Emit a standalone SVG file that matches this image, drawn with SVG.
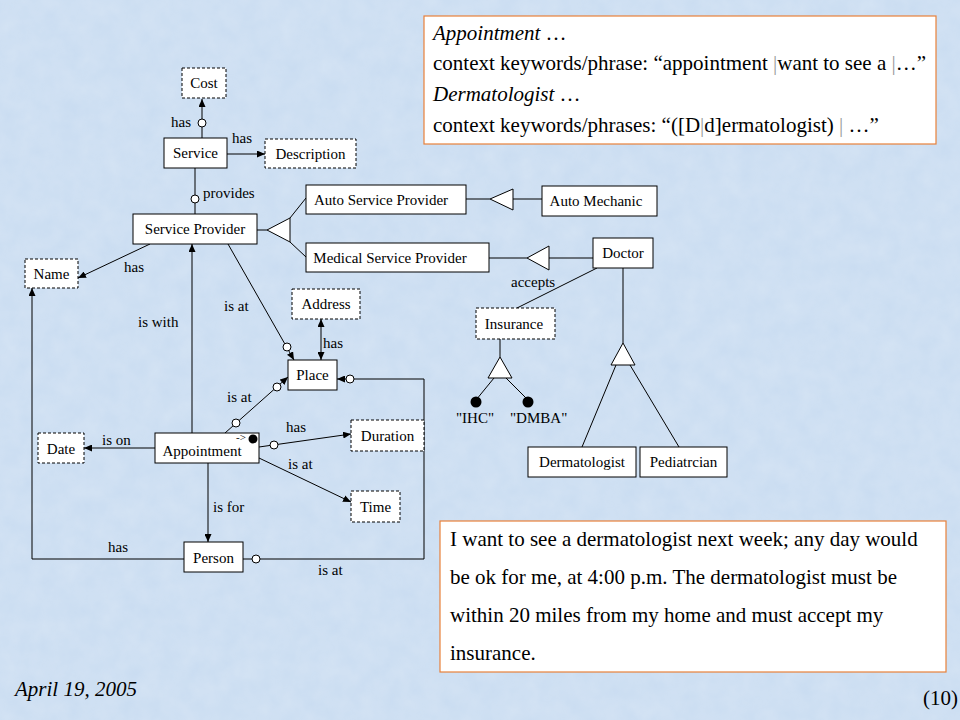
<svg xmlns="http://www.w3.org/2000/svg" width="960" height="720" viewBox="0 0 960 720">
<defs>
<style>
.node rect{fill:#fff;stroke:#000;stroke-width:1}
.dashed rect{stroke-dasharray:3,2}
.node text{font-family:'Liberation Serif','DejaVu Serif',serif;font-size:15px;fill:#000;text-anchor:middle}
.conn line,.conn polyline,.conn path{stroke:#000;stroke-width:1;fill:none}
.arr{marker-end:url(#ah)}
.oc{fill:#fff;stroke:#000;stroke-width:1}
.gen{fill:#fff;stroke:#000;stroke-width:1}
.lbl{font-family:'Liberation Serif','DejaVu Serif',serif;font-size:15px;fill:#000}
.box{fill:#fff;stroke:#e8803a;stroke-width:1.2}
.bt{font-family:'Liberation Serif','DejaVu Serif',serif;font-size:21px;fill:#000}
.pipe{fill:#999}
</style>
<marker id="ah" viewBox="0 0 8 7" refX="8" refY="3.5" markerWidth="8" markerHeight="7" markerUnits="userSpaceOnUse" orient="auto-start-reverse">
<path d="M0,0 L8,3.5 L0,7 z" fill="#000"/>
</marker>
<filter id="tex" x="0" y="0" width="100%" height="100%">
<feTurbulence type="fractalNoise" baseFrequency="0.05" numOctaves="3" seed="3"/>
<feColorMatrix type="matrix" values="0 0 0 0 1  0 0 0 0 1  0 0 0 0 1  0 0 0 0.35 0"/>
</filter>
</defs>
<rect x="0" y="0" width="960" height="720" fill="#c9dcf1"/>
<rect x="0" y="0" width="960" height="720" filter="url(#tex)" opacity="0.6"/>

<g id="connectors" class="conn">
<line class="arr" x1="202" y1="138" x2="202" y2="99"/>
<circle class="oc" cx="202" cy="123" r="4"/>
<line class="arr" x1="227" y1="154" x2="265" y2="154"/>
<line x1="195" y1="168" x2="195" y2="214"/>
<circle class="oc" cx="195" cy="199" r="4"/>
<line class="arr" x1="150" y1="244" x2="78" y2="278"/>
<line class="arr" x1="192" y1="433" x2="192" y2="244"/>
<line class="arr" x1="228" y1="244" x2="294" y2="360"/>
<circle class="oc" cx="287" cy="347" r="4"/>
<line class="arr" x1="225" y1="433" x2="288" y2="377"/>
<circle class="oc" cx="236" cy="423" r="4"/>
<circle class="oc" cx="277" cy="387" r="4"/>
<line x1="321" y1="319" x2="321" y2="360" marker-start="url(#ah)" marker-end="url(#ah)"/>
<polyline class="arr" points="243,559 424,559 424,379 337,379"/>
<circle class="oc" cx="256" cy="559" r="4"/>
<circle class="oc" cx="350" cy="379" r="4"/>
<line class="arr" x1="155" y1="448" x2="84" y2="448"/>
<line class="arr" x1="259" y1="447" x2="351" y2="434"/>
<circle class="oc" cx="274" cy="445" r="4"/>
<line class="arr" x1="259" y1="458" x2="351" y2="502"/>
<line class="arr" x1="208" y1="463" x2="208" y2="542"/>
<polyline class="arr" points="184,559 32,559 32,288"/>
<line x1="257" y1="230" x2="267" y2="230"/>
<polygon class="gen" points="267,230 290,218 290,242"/>
<line x1="290" y1="218" x2="306" y2="198"/>
<line x1="290" y1="242" x2="306" y2="257"/>
<line x1="466" y1="199" x2="490" y2="199"/>
<polygon class="gen" points="490,199 513,189 513,210"/>
<line x1="513" y1="199" x2="542" y2="199"/>
<line x1="489" y1="258" x2="527" y2="258"/>
<polygon class="gen" points="527,258 549,246 549,270"/>
<line x1="549" y1="258" x2="593" y2="258"/>
<line x1="597" y1="268" x2="517" y2="308"/>
<line x1="623" y1="268" x2="623" y2="343"/>
<polygon class="gen" points="623,343 611,365 635,365"/>
<line x1="616" y1="365" x2="582" y2="447"/>
<line x1="630" y1="365" x2="679" y2="447"/>
<line x1="500" y1="339" x2="500" y2="357"/>
<polygon class="gen" points="500,357 488,378 512,378"/>
<line x1="494" y1="378" x2="476" y2="400"/>
<line x1="506" y1="378" x2="528" y2="400"/>
<circle cx="476" cy="402" r="5.5" fill="#000"/>
<circle cx="528" cy="402" r="5.5" fill="#000"/>
<text class="lbl" x="171" y="127">has</text>
<text class="lbl" x="232" y="143">has</text>
<text class="lbl" x="203" y="198">provides</text>
<text class="lbl" x="124" y="272">has</text>
<text class="lbl" x="138" y="327">is with</text>
<text class="lbl" x="224" y="311">is at</text>
<text class="lbl" x="227" y="402">is at</text>
<text class="lbl" x="323" y="348">has</text>
<text class="lbl" x="286" y="432">has</text>
<text class="lbl" x="102" y="445">is on</text>
<text class="lbl" x="288" y="469">is at</text>
<text class="lbl" x="213" y="512">is for</text>
<text class="lbl" x="108" y="552">has</text>
<text class="lbl" x="318" y="575">is at</text>
<text class="lbl" x="511" y="287">accepts</text>
<text class="lbl" x="456" y="423">"IHC"</text>
<text class="lbl" x="510" y="423">"DMBA"</text>
</g>

<g id="cost" class="node dashed"><rect x="182" y="68" width="44" height="30"/><text x="204" y="88">Cost</text></g>
<g id="service" class="node"><rect x="164" y="138" width="63" height="30"/><text x="195.5" y="158">Service</text></g>
<g id="description" class="node dashed"><rect x="265" y="139" width="91" height="29"/><text x="310.5" y="159">Description</text></g>
<g id="service-provider" class="node"><rect x="133" y="214" width="124" height="30"/><text x="195" y="234">Service Provider</text></g>
<g id="auto-service-provider" class="node"><rect x="306" y="185" width="160" height="29"/><text x="381" y="205">Auto Service Provider</text></g>
<g id="medical-service-provider" class="node"><rect x="306" y="243" width="183" height="29"/><text x="390" y="263">Medical Service Provider</text></g>
<g id="auto-mechanic" class="node"><rect x="542" y="186" width="115" height="30"/><text x="596" y="206">Auto Mechanic</text></g>
<g id="doctor" class="node"><rect x="593" y="238" width="60" height="30"/><text x="623" y="258">Doctor</text></g>
<g id="name" class="node dashed"><rect x="25" y="259" width="53" height="29"/><text x="51.5" y="279">Name</text></g>
<g id="address" class="node dashed"><rect x="292" y="289" width="68" height="30"/><text x="326" y="309">Address</text></g>
<g id="place" class="node"><rect x="288" y="360" width="49" height="30"/><text x="312.5" y="380">Place</text></g>
<g id="appointment" class="node"><rect x="155" y="433" width="104" height="30"/><text x="202" y="456">Appointment</text>
<text x="241" y="441" style="font-size:11px">-&gt;</text><circle cx="253" cy="439" r="4.5" fill="#000"/></g>
<g id="date" class="node dashed"><rect x="38" y="433" width="46" height="30"/><text x="61" y="454">Date</text></g>
<g id="duration" class="node dashed"><rect x="351" y="420" width="73" height="31"/><text x="387.5" y="441">Duration</text></g>
<g id="time" class="node dashed"><rect x="351" y="491" width="49" height="31"/><text x="375.5" y="512">Time</text></g>
<g id="person" class="node"><rect x="184" y="542" width="59" height="30"/><text x="213.5" y="563">Person</text></g>
<g id="insurance" class="node dashed"><rect x="476" y="308" width="79" height="31"/><text x="514" y="329">Insurance</text></g>
<g id="dermatologist" class="node"><rect x="528" y="447" width="108" height="30"/><text x="582" y="467">Dermatologist</text></g>
<g id="pediatrcian" class="node"><rect x="640" y="447" width="87" height="30"/><text x="683.5" y="467">Pediatrcian</text></g>

<g id="keywords-box">
<rect class="box" x="424" y="16" width="512" height="128"/>
<text class="bt" x="433" y="40" font-style="italic">Appointment <tspan font-style="normal">…</tspan></text>
<text class="bt" x="433" y="70">context keywords/phrase: “appointment <tspan class="pipe">|</tspan>want to see a <tspan class="pipe">|</tspan>…”</text>
<text class="bt" x="433" y="101" font-style="italic">Dermatologist <tspan font-style="normal">…</tspan></text>
<text class="bt" x="433" y="132">context keywords/phrases: “([D<tspan class="pipe">|</tspan>d]ermatologist) <tspan class="pipe">|</tspan> …”</text>
</g>

<g id="request-box">
<rect class="box" x="440" y="521" width="506" height="151"/>
<text class="bt" x="450" y="546">I want to see a dermatologist next week; any day would</text>
<text class="bt" x="450" y="584">be ok for me, at 4:00 p.m. The dermatologist must be</text>
<text class="bt" x="450" y="622">within 20 miles from my home and must accept my</text>
<text class="bt" x="450" y="660">insurance.</text>
</g>

<text class="bt" x="15" y="696" font-style="italic">April 19, 2005</text>
<text class="bt" x="958" y="705" text-anchor="end">(10)</text>
</svg>
